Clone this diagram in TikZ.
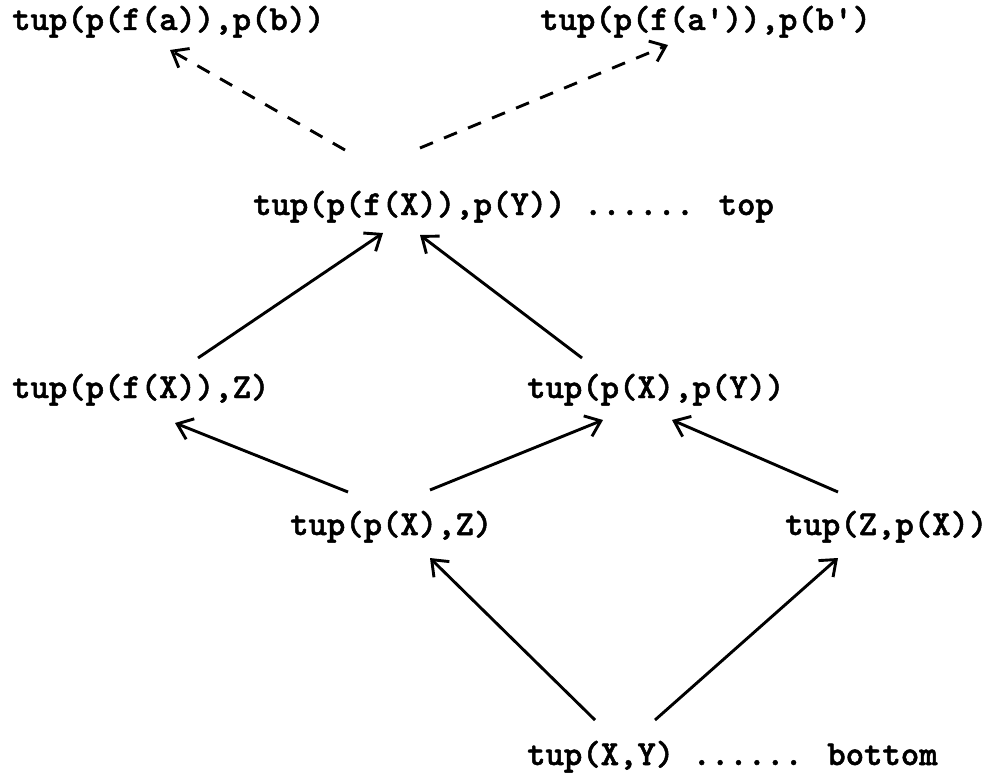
\documentclass[tikz,border=0pt]{standalone}
\usepackage{fontspec}
\newfontfamily\typewr{lmmonolt10-bold.otf}[FakeBold=1.4]
\usepackage{tikz}
\usetikzlibrary{arrows.meta}

\begin{document}
\begin{tikzpicture}[x=1pt, y=-1pt, every node/.style={anchor=base west, inner sep=0pt}]
        \tikzset{every node/.style={anchor=base west, inner sep=0pt, font=\typewr\fontsize{35}{38}\selectfont}}
        \tikzset{arr/.style={-{Straight Barb[length=14pt,width=22pt]}, line width=2.9pt}}
        \tikzset{darr/.style={arr, dash pattern=on 14pt off 12pt}}
        \useasboundingbox (0,0) rectangle (993,776);
        % top level
        \node (ta) at (12,30) {tup(p(f(a)),p(b))};
        \node (tb) at (540,30) {tup(p(f(a')),p(b')};
        \node (tc) at (253,215) {tup(p(f(X)),p(Y)) ...... top};
        % middle
        \node (td) at (12,398) {tup(p(f(X)),Z)};
        \node (te) at (527,398) {tup(p(X),p(Y))};
        \node (tf) at (290,535) {tup(p(X),Z)};
        \node (tg) at (785,535) {tup(Z,p(X))};
        % bottom level
        \node (th) at (527,765) {tup(X,Y) ...... bottom};
        \draw[darr] ([shift={(92,-65)}]tc.base west) -- ([shift={(158,20)}]ta.base west);
        \draw[darr] ([shift={(167,-67)}]tc.base west) -- ([shift={(128,15)}]tb.base west);
        \draw[arr] ([shift={(186,-40)}]td.base west) -- ([shift={(130,18)}]tc.base west);
        \draw[arr] ([shift={(55,-40)}]te.base west) -- ([shift={(167,20)}]tc.base west);
        \draw[arr] ([shift={(58,-43)}]tf.base west) -- ([shift={(163,25)}]td.base west);
        \draw[arr] ([shift={(140,-45)}]tf.base west) -- ([shift={(76,22)}]te.base west);
        \draw[arr] ([shift={(53,-43)}]tg.base west) -- ([shift={(145,22)}]te.base west);
        \draw[arr] ([shift={(68,-45)}]th.base west) -- ([shift={(140,23)}]tf.base west);
        \draw[arr] ([shift={(128,-45)}]th.base west) -- ([shift={(53,23)}]tg.base west);
\end{tikzpicture}
\end{document}
